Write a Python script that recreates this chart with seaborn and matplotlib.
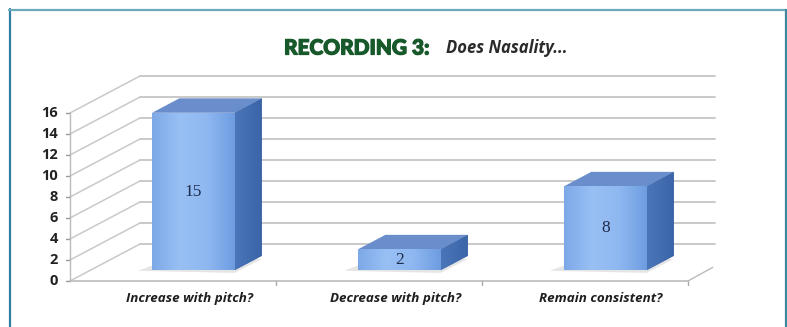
import numpy as np
import pandas as pd
import seaborn as sns
import matplotlib.pyplot as plt
import matplotlib.colors as mcolors
import matplotlib.patheffects as pe
from matplotlib.patches import Polygon
from matplotlib.lines import Line2D

categories = ['Increase with pitch?', 'Decrease with pitch?', 'Remain consistent?']
counts = [15, 2, 8]
y_ticks = [0, 2, 4, 6, 8, 10, 12, 14, 16]
title_main = 'RECORDING 3:'
title_sub = 'Does Nasality...'

df = pd.DataFrame({'answer': categories, 'count': counts})

sns.set_style('white')
plt.rcParams['font.family'] = ['Open Sans', 'DejaVu Sans']

fig = plt.figure(figsize=(7.87, 3.27), dpi=100)
ax = fig.add_axes([0, 0, 1, 1])

# layout in pixels: one category = 206 px, one count = 10.5 px
px_x, px_y = 206.0, 10.5
x0_px, y0_px = 173.0, 281.0
xlim = (-x0_px / px_x, (787 - x0_px) / px_x)
ylim = (-(327 - y0_px) / px_y, y0_px / px_y)

# fake 3d depth (back wall offset) in data units
DX, DY = 70 / px_x, 37 / px_y
front_depth, bar_depth = 0.29, 0.39
left, right, back_right = -0.5, len(categories) - 0.5, 2.63
grid_c = '#c9c9c9'

# walls and gridlines
for v in y_ticks:
    ax.plot([left, left + DX], [v, v + DY], color=grid_c, lw=1.1, zorder=1)
    ax.plot([left + DX, back_right], [v + DY, v + DY], color=grid_c, lw=1.4, zorder=1)
    ax.plot([left - 0.02, left], [v, v], color='#999999', lw=1, zorder=1)
    ax.text(left - 0.06, v, str(v), ha='right', va='center', fontsize=10.5,
            fontweight='bold', color='#222222')
ax.plot([left, left], [0, y_ticks[-1]], color='#bbbbbb', lw=1, zorder=1)
ax.plot([left, right], [0, 0], color='#bbbbbb', lw=1.2, zorder=1)
for k in range(len(categories)):
    ax.plot([k + 0.5, k + 0.5], [0, -0.35], color='#aaaaaa', lw=1, zorder=1)
ax.plot([right, right + 0.12], [0, 1.3], color='#bbbbbb', lw=1, zorder=1)

sns.barplot(data=df, x='answer', y='count', width=0.40, ax=ax,
            color='#7aa6e6', saturation=1, zorder=3)

grad = mcolors.LinearSegmentedColormap.from_list(
    'front', ['#7ea9e8', '#98c0f4', '#8fb8f1', '#6e9de0'])
side_grad = mcolors.LinearSegmentedColormap.from_list('side', ['#4a76b9', '#3a64a6'])
for p, val in zip(ax.patches, counts):
    x0 = p.get_x() + front_depth * DX
    y0 = front_depth * DY
    w, h = p.get_width(), p.get_height()
    x1, y1 = x0 + w, y0 + h
    p.set_x(x0)
    p.set_y(y0)
    p.set_edgecolor('none')
    sx, sy = bar_depth * DX, bar_depth * DY
    # floor shadow
    ax.add_patch(Polygon([(x0 - 0.07, y0 - 0.05), (x1, y0 - 0.25), (x1 + sx, y0 + sy - 0.3),
                          (x0 + sx, y0 + sy)], closed=True, color='#999999',
                         alpha=0.25, lw=0, zorder=2))
    side = Polygon([(x1, y0), (x1 + sx, y0 + sy), (x1 + sx, y1 + sy), (x1, y1)],
                   closed=True, facecolor='#4470b3', edgecolor='none', zorder=3)
    top = Polygon([(x0, y1), (x0 + sx, y1 + sy), (x1 + sx, y1 + sy), (x1, y1)],
                  closed=True, facecolor='#6a8ecb', edgecolor='none', zorder=3)
    ax.add_patch(side)
    ax.add_patch(top)
    simg = ax.imshow(np.linspace(0, 1, 32).reshape(1, -1), cmap=side_grad, aspect='auto',
                     extent=[x1, x1 + sx, y0, y1 + sy], zorder=3.2)
    simg.set_clip_path(side)
    img = ax.imshow(np.linspace(0, 1, 64).reshape(1, -1), cmap=grad, aspect='auto',
                    extent=[x0, x1, y0, y1], zorder=3.5)
    img.set_clip_path(p)
    ax.text(x0 + w / 2, y0 + h / 2, str(val), ha='center', va='center',
            fontsize=12.5, family='Liberation Serif', color='#1f2d4d', zorder=5)

for k, cat in enumerate(categories):
    ax.text(k + front_depth * DX - 0.02, -1.65, cat, ha='center', va='center', fontsize=9.6,
            fontweight='bold', fontstyle='italic', color='#1e1e1e')

ax.set_xlim(*xlim)
ax.set_ylim(*ylim)
ax.axis('off')

# title
fig.text(284 / 787, 1 - 48 / 327, title_main, ha='left', va='center', fontsize=15,
         family=['Lato', 'DejaVu Sans'], fontweight='black', color='#17592a',
         path_effects=[pe.withStroke(linewidth=0.9, foreground='#17592a')])
fig.text(446 / 787, 1 - 48 / 327, title_sub, ha='left', va='center', fontsize=12,
         fontstyle='italic', fontweight='bold', color='#2a2a2a')

# frame around the chart
fig.add_artist(Line2D([9.5 / 787, 9.5 / 787], [0, 1 - 9 / 327], color='#2e7fa1', lw=1.6))
fig.add_artist(Line2D([9 / 787, 1], [1 - 9.5 / 327, 1 - 9.5 / 327], color='#6aaabb', lw=1.6))
fig.add_artist(Line2D([785.5 / 787, 785.5 / 787], [0, 1 - 10 / 327], color='#3b86a3', lw=1.6))

fig.savefig('out.png', dpi=100, facecolor='white')
